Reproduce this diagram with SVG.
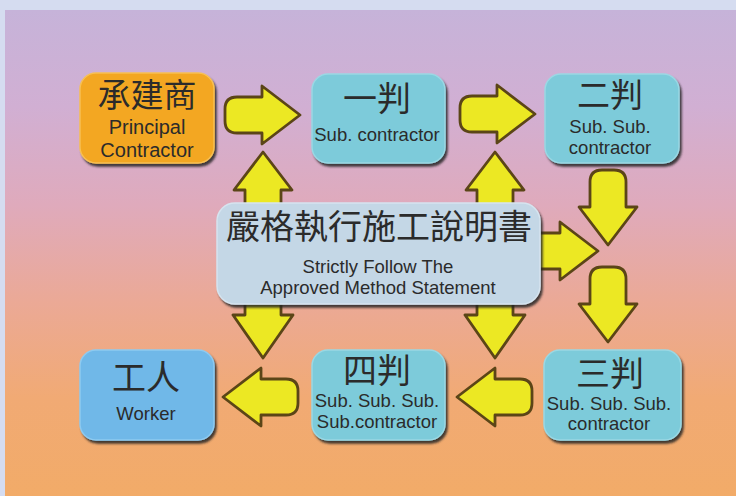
<svg xmlns="http://www.w3.org/2000/svg" width="736" height="496" viewBox="0 0 736 496">
  <defs>
    <linearGradient id="bg" x1="0" y1="10" x2="0" y2="496" gradientUnits="userSpaceOnUse">
      <stop offset="0" stop-color="#c6b3d9"/>
      <stop offset="0.2" stop-color="#d1afd3"/>
      <stop offset="0.4" stop-color="#dfaabc"/>
      <stop offset="0.6" stop-color="#eba996"/>
      <stop offset="0.8" stop-color="#f1aa74"/>
      <stop offset="1" stop-color="#f2ab68"/>
    </linearGradient>
    <filter id="shadow" x="-10%" y="-10%" width="125%" height="130%">
      <feDropShadow dx="2" dy="3" stdDeviation="1.3" flood-color="#262626" flood-opacity="0.85"/>
    </filter>
    <path id="arr" d="M -25,-18 H 0 V -29 L 38,0 L 0,29 V 18 H -25 Q -37,18 -37,6 V -6 Q -37,-18 -25,-18 Z"/>
    <path id="arrL" d="M -25,-18 H 0 V -30 L 43,0 L 0,30 V 18 H -25 Q -37,18 -37,6 V -6 Q -37,-18 -25,-18 Z"/>
  </defs>
  <style>
    .arrow { fill: #ece823; stroke: #5b4517; stroke-width: 2.8; stroke-linejoin: round; }
    .box { filter: url(#shadow); stroke-width: 1.5; }
    .orange { fill: #f3a721; stroke: #f7c054; }
    .teal { fill: #7dcbda; stroke: #9ad8e4; }
    .blue { fill: #6fb8e8; stroke: #8ecaf0; }
    .grey { fill: #c4d7e6; stroke: #d6e4ef; }
    .cjk { font-family: "Noto Sans CJK TC", "Noto Sans CJK SC", sans-serif; font-size: 34px; fill: #2b2b2b; text-anchor: middle; }
    .cjk2 { font-family: "Noto Sans CJK TC", "Noto Sans CJK SC", sans-serif; font-size: 33px; fill: #2b2b2b; text-anchor: middle; }
    .en { font-family: "Liberation Sans", Arial, sans-serif; font-size: 18.5px; fill: #2b2b2b; text-anchor: middle; }
    .en20 { font-family: "Liberation Sans", Arial, sans-serif; font-size: 20px; fill: #2b2b2b; text-anchor: middle; }
  </style>

  <rect x="0" y="0" width="736" height="496" fill="#d5dcf0"/>
  <rect x="5" y="10" width="731" height="486" fill="url(#bg)"/>

  <g id="connectors">
    <use href="#arr" class="arrow" transform="translate(262,115)"/>
    <use href="#arr" class="arrow" transform="translate(497,114)"/>
    <use href="#arr" class="arrow" transform="translate(263,190) rotate(-90)"/>
    <use href="#arr" class="arrow" transform="translate(495,190) rotate(-90)"/>
    <use href="#arr" class="arrow" transform="translate(608,207) rotate(90)"/>
    <use href="#arr" class="arrow" transform="translate(560,251)"/>
    <use href="#arr" class="arrow" transform="translate(608,304) rotate(90)"/>
    <use href="#arrL" class="arrow" transform="translate(263,315) rotate(90)"/>
    <use href="#arrL" class="arrow" transform="translate(495,315) rotate(90)"/>
    <use href="#arr" class="arrow" transform="translate(261,397) rotate(180)"/>
    <use href="#arr" class="arrow" transform="translate(495,397) rotate(180)"/>
  </g>

  <g id="principal">
    <rect class="box orange" x="80" y="73" width="134" height="90" rx="16"/>
    <text class="cjk2" x="147" y="107">承建商</text>
    <text class="en20" x="147" y="134">Principal</text>
    <text class="en20" x="147" y="157">Contractor</text>
  </g>

  <g id="sub1">
    <rect class="box teal" x="312" y="74" width="133" height="89" rx="16"/>
    <text class="cjk" x="377" y="111">一判</text>
    <text class="en" x="377" y="141">Sub. contractor</text>
  </g>

  <g id="sub2">
    <rect class="box teal" x="545" y="74" width="134" height="89" rx="16"/>
    <text class="cjk2" x="610" y="107">二判</text>
    <text class="en" x="610" y="133">Sub. Sub.</text>
    <text class="en" x="610" y="154">contractor</text>
  </g>

  <g id="method">
    <rect class="box grey" x="217" y="203" width="323" height="101" rx="18"/>
    <text class="cjk" x="379" y="239">嚴格執行施工說明書</text>
    <text class="en" x="378" y="273">Strictly Follow The</text>
    <text class="en" x="378" y="294">Approved Method Statement</text>
  </g>

  <g id="worker">
    <rect class="box blue" x="80" y="350" width="134" height="90" rx="16"/>
    <text class="cjk" x="146" y="390">工人</text>
    <text class="en" x="146" y="420">Worker</text>
  </g>

  <g id="sub4">
    <rect class="box teal" x="312" y="350" width="133" height="90" rx="16"/>
    <text class="cjk" x="377" y="383">四判</text>
    <text class="en" x="377" y="407">Sub. Sub. Sub.</text>
    <text class="en" x="377" y="428">Sub.contractor</text>
  </g>

  <g id="sub3">
    <rect class="box teal" x="544" y="350" width="137" height="90" rx="16"/>
    <text class="cjk" x="610" y="386">三判</text>
    <text class="en" x="609" y="410">Sub. Sub. Sub.</text>
    <text class="en" x="609" y="430">contractor</text>
  </g>
</svg>
